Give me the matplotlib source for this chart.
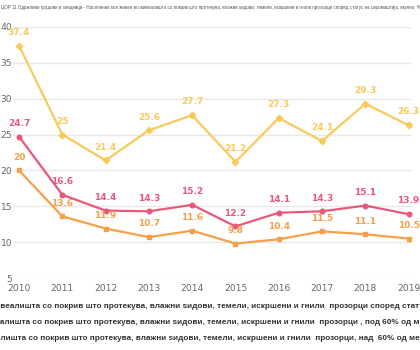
import matplotlib
matplotlib.use('Agg')
import matplotlib.pyplot as plt

years = [2010, 2011, 2012, 2013, 2014, 2015, 2016, 2017, 2018, 2019]
total = [24.7, 16.6, 14.4, 14.3, 15.2, 12.2, 14.1, 14.3, 15.1, 13.9]
under60 = [37.4, 25, 21.4, 25.6, 27.7, 21.2, 27.3, 24.1, 29.3, 26.3]
over60 = [20, 13.6, 11.9, 10.7, 11.6, 9.8, 10.4, 11.5, 11.1, 10.5]

title = ('ЦОР 11 Одржливи градови и заедници - Население кое живее во живеалишта со покрив што протекува, '
         'влажни ѕидови, темели, искршени и гнили прозорци според статус на сиромаштија, вкупно, %')
base = 'Население кое живее во живеалишта со покрив што протекува, влажни ѕидови, темели, искршени и гнили  прозорци'
names = [base + ' според статус на сиромаштија, вкупно',
         base + ' , под 60% од медијаната на еквивалентниот расположлив доход',
         base + ', над  60% од медијаната на еквивалентниот расположлив доход']
hidden = ['Население кое живее во жи', 'Население кое живее во живе', 'Население кое живее во живеа']

c_pink = '#e9587b'
c_yellow = '#f8ca5c'
c_orange = '#f5a04b'

fig = plt.figure(figsize=(4.2, 3.5), dpi=100)
ax = fig.add_axes([13/420, 1 - 278/350, 399/420, 251/350])

series = [(total, c_pink, 'o'), (under60, c_yellow, 'D'), (over60, c_orange, 's')]
for vals, col, mk in series:
    ax.plot(years, vals, color=col, lw=1.6, marker=mk, ms=3.3)
    for x, v in zip(years, vals):
        ax.annotate(f'{v:g}', (x, v), xytext=(0, 6.3), textcoords='offset points',
                    ha='center', va='bottom', color=col, fontsize=6.5, fontweight='bold')

ax.set_xlim(2009.86, 2019.08)
ax.set_ylim(5, 40)
ax.set_xticks(years)
ax.set_yticks([5, 10, 15, 20, 25, 30, 35, 40])
ax.grid(axis='y', color='#e8e8e8', lw=1)
ax.set_axisbelow(True)
for s in ax.spines.values():
    s.set_visible(False)
ax.tick_params(length=0, labelsize=6.6, labelcolor='#666666')
ax.tick_params(axis='x', pad=4)
ax.tick_params(axis='y', pad=0.5)

fig.canvas.draw()
r = fig.canvas.get_renderer()

# title squeezed to the figure width
t = fig.text(0.003, 1 - 8/350, title, fontsize=5, color='#555555', va='center', ha='left',
             family=['Liberation Sans Narrow', 'Liberation Sans'])
tw = t.get_window_extent(r).width
t.set_fontsize(5 * 424 / tw)

for i, (nm, hid) in enumerate(zip(names, hidden)):
    tmp = fig.text(0, 0, hid, fontsize=5.9, fontweight='bold', family='Liberation Sans')
    w = tmp.get_window_extent(r).width
    tmp.remove()
    y = 1 - [307, 323, 338][i] / 350
    fig.text(-w / 420, y, nm, fontsize=5.9, fontweight='bold', color='#333333',
             va='center', ha='left', family='Liberation Sans')

fig.savefig('out.png', dpi=100)
